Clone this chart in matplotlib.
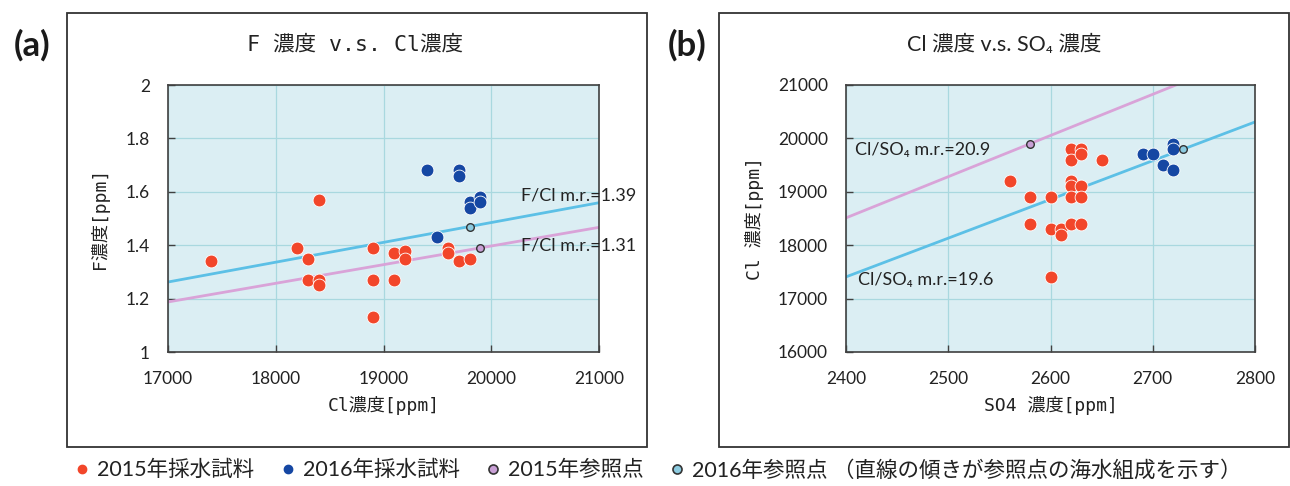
import numpy as np
import matplotlib
matplotlib.use("Agg")
import matplotlib.pyplot as plt
from matplotlib.patches import Rectangle
from matplotlib.lines import Line2D

# ---- data -------------------------------------------------------------
# (a) F vs Cl
cl_a_2015 = [17400, 18200, 18300, 18300, 18400, 18400, 18400, 18900, 18900,
             18900, 19100, 19100, 19200, 19200, 19600, 19600, 19700, 19800]
f_a_2015 = [1.34, 1.39, 1.35, 1.27, 1.27, 1.25, 1.57, 1.39, 1.27,
            1.13, 1.37, 1.27, 1.38, 1.35, 1.39, 1.37, 1.34, 1.35]
cl_a_2016 = [19400, 19500, 19700, 19700, 19800, 19800, 19900, 19900]
f_a_2016 = [1.68, 1.43, 1.68, 1.66, 1.56, 1.54, 1.58, 1.56]
ref_a_2015 = (19900, 1.39)
ref_a_2016 = (19800, 1.47)
mr_a_2015 = "1.31"
mr_a_2016 = "1.39"

# (b) Cl vs SO4
so4_b_2015 = [2560, 2580, 2580, 2600, 2600, 2600, 2610, 2610, 2620, 2620,
              2620, 2620, 2620, 2620, 2630, 2630, 2630, 2630, 2630, 2650]
cl_b_2015 = [19200, 18900, 18400, 18900, 18300, 17400, 18300, 18200, 19800, 19600,
             19200, 19100, 18900, 18400, 19800, 19700, 19100, 18900, 18400, 19600]
so4_b_2016 = [2690, 2700, 2710, 2720, 2720, 2720]
cl_b_2016 = [19700, 19700, 19500, 19900, 19800, 19400]
ref_b_2015 = (2580, 19900)
ref_b_2016 = (2730, 19800)
mr_b_2015 = "20.9"
mr_b_2016 = "19.6"

a_xticks = [17000, 18000, 19000, 20000, 21000]
a_yticks = [1.0, 1.2, 1.4, 1.6, 1.8, 2.0]
a_yticklabels = ["1", "1.2", "1.4", "1.6", "1.8", "2"]
b_xticks = [2400, 2500, 2600, 2700, 2800]
b_yticks = [16000, 17000, 18000, 19000, 20000, 21000]

legend_labels = ["2015年採水試料", "2016年採水試料", "2015年参照点",
                 "2016年参照点 （直線の傾きが参照点の海水組成を示す）"]

# ---- style ------------------------------------------------------------
RED = "#f2462a"
BLUE = "#1547a3"
PINK_LINE = "#d9a3d8"
CYAN_LINE = "#5cc0e6"
PINK_PT = "#c9a0d6"
CYAN_PT = "#8ccbe0"
BG = "#dbeef3"
GRID = "#a9d8df"
SPINE = "#404040"
TXT = "#222222"

LATIN = ["Lato", "Noto Sans CJK JP", "DejaVu Sans"]
MONO = ["DejaVu Sans Mono", "Noto Sans CJK JP"]

plt.rcParams["font.family"] = LATIN

W, H = 1290, 486
fig = plt.figure(figsize=(W / 100, H / 100), dpi=100)


def fx(px):
    return px / W


def fy(py):
    return 1 - py / H


# outer frames around each panel
for x0, x1 in [(67, 647), (719, 1289)]:
    fig.patches.append(Rectangle((fx(x0), fy(447)), fx(x1 - x0), (447 - 13) / H,
                                 transform=fig.transFigure, fill=False,
                                 edgecolor="#333333", linewidth=1.3))

ax_a = fig.add_axes([fx(168), fy(352), fx(599 - 168), (352 - 85) / H])
ax_b = fig.add_axes([fx(846), fy(352), fx(1255 - 846), (352 - 85) / H])


def style_axes(ax):
    ax.set_facecolor(BG)
    ax.grid(True, color=GRID, linewidth=0.9)
    ax.set_axisbelow(True)
    for s in ax.spines.values():
        s.set_color(SPINE)
        s.set_linewidth(1.2)
    ax.tick_params(direction="in", length=5, width=1, color=SPINE,
                   labelsize=12.5, labelcolor=TXT)
    ax.tick_params(axis="x", pad=14)
    ax.tick_params(axis="y", pad=13)


# ---- (a) --------------------------------------------------------------
style_axes(ax_a)
ax_a.set_xlim(17000, 21000)
ax_a.set_ylim(1, 2)
ax_a.set_xticks(a_xticks)
ax_a.set_yticks(a_yticks)
ax_a.set_yticklabels(a_yticklabels)

xs = np.array(ax_a.get_xlim())
ax_a.plot(xs, xs * ref_a_2016[1] / ref_a_2016[0], color=CYAN_LINE, lw=2, zorder=2)
ax_a.plot(xs, xs * ref_a_2015[1] / ref_a_2015[0], color=PINK_LINE, lw=2, zorder=2)

ax_a.scatter(cl_a_2015, f_a_2015, s=85, color=RED, edgecolors="white", linewidths=0.6, zorder=3)
ax_a.scatter(cl_a_2016, f_a_2016, s=85, color=BLUE, edgecolors="white", linewidths=0.6, zorder=3)
ax_a.scatter(*ref_a_2016, s=30, color=CYAN_PT, edgecolors="#333333", linewidths=1, zorder=4)
ax_a.scatter(*ref_a_2015, s=30, color=PINK_PT, edgecolors="#333333", linewidths=1, zorder=4)

ax_a.text(20276, 1.588, "F/Cl m.r.=" + mr_a_2016, fontsize=13, color=TXT,
          ha="left", va="center", clip_on=False, zorder=5)
ax_a.text(20276, 1.40, "F/Cl m.r.=" + mr_a_2015, fontsize=13, color=TXT,
          ha="left", va="center", clip_on=False, zorder=5)

ax_a.set_xlabel("Cl濃度[ppm]", family=MONO, fontsize=13, color=TXT, labelpad=6)
ax_a.set_ylabel("F濃度[ppm]", family=MONO, fontsize=13, color=TXT, labelpad=12)

# ---- (b) --------------------------------------------------------------
style_axes(ax_b)
ax_b.set_xlim(2400, 2800)
ax_b.set_ylim(16000, 21000)
ax_b.set_xticks(b_xticks)
ax_b.set_yticks(b_yticks)

xs = np.array(ax_b.get_xlim())
ax_b.plot(xs, xs * ref_b_2015[1] / ref_b_2015[0], color=PINK_LINE, lw=2, zorder=2)
ax_b.plot(xs, xs * ref_b_2016[1] / ref_b_2016[0], color=CYAN_LINE, lw=2, zorder=2)

ax_b.scatter(so4_b_2015, cl_b_2015, s=85, color=RED, edgecolors="white", linewidths=0.6, zorder=3)
ax_b.scatter(so4_b_2016, cl_b_2016, s=85, color=BLUE, edgecolors="white", linewidths=0.6, zorder=3)
ax_b.scatter(*ref_b_2016, s=30, color=CYAN_PT, edgecolors="#333333", linewidths=1, zorder=4)
ax_b.scatter(*ref_b_2015, s=30, color=PINK_PT, edgecolors="#333333", linewidths=1, zorder=4)

ax_b.text(2409, 19777, "Cl/SO₄ m.r.=" + mr_b_2015, fontsize=13, color=TXT,
          ha="left", va="center", zorder=5)
ax_b.text(2412, 17342, "Cl/SO₄ m.r.=" + mr_b_2016, fontsize=13, color=TXT,
          ha="left", va="center", zorder=5)

ax_b.set_xlabel("SO4 濃度[ppm]", family=MONO, fontsize=13, color=TXT, labelpad=6)
ax_b.set_ylabel("Cl 濃度[ppm]", family=MONO, fontsize=13, color=TXT, labelpad=10)

# ---- titles and panel letters -------------------------------------------
fig.text(fx(355), fy(45), "F 濃度 v.s. Cl濃度", family=MONO, fontsize=15.5,
         color=TXT, ha="center", va="center")
fig.text(fx(1004), fy(45), "Cl 濃度 v.s. SO₄ 濃度", family=LATIN, fontsize=15.5,
         color=TXT, ha="center", va="center")
fig.text(fx(32), fy(45), "(a)", fontsize=25, fontweight="bold", color="#1a1a1a",
         ha="center", va="center")
fig.text(fx(687), fy(45), "(b)", fontsize=25, fontweight="bold", color="#1a1a1a",
         ha="center", va="center")

# ---- legend -------------------------------------------------------------
handles = [
    Line2D([], [], ls="none", marker="o", ms=6, mfc=RED, mec=RED),
    Line2D([], [], ls="none", marker="o", ms=6, mfc=BLUE, mec=BLUE),
    Line2D([], [], ls="none", marker="o", ms=6.5, mfc=PINK_PT, mec="#333333", mew=1.2),
    Line2D([], [], ls="none", marker="o", ms=6.5, mfc=CYAN_PT, mec="#333333", mew=1.2),
]
fig.legend(handles, legend_labels, loc="center", bbox_to_anchor=(fx(657), fy(470)),
           ncol=4, frameon=False, prop={"family": LATIN, "size": 15.5},
           handletextpad=0.25, columnspacing=1.1, handlelength=0.9, labelcolor=TXT)

fig.savefig("out.png", dpi=100)
